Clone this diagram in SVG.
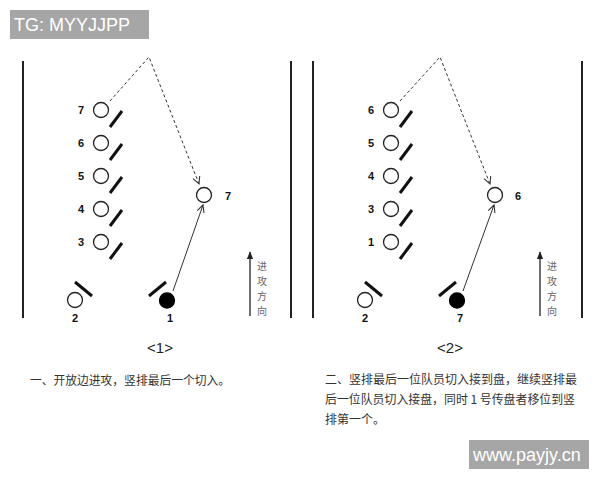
<svg xmlns="http://www.w3.org/2000/svg" width="600" height="480" viewBox="0 0 600 480">
<defs>
<style>
.side{stroke:#222;stroke-width:2;fill:none}
.p{fill:#fff;stroke:#222;stroke-width:1.3}
.pf{fill:#000;stroke:#000;stroke-width:1.3}
.sl{stroke:#111;stroke-width:3;stroke-linecap:butt}
.num{font-family:"Liberation Sans",Arial,sans-serif;font-weight:bold;font-size:11px;fill:#111;text-anchor:middle;dominant-baseline:central}
.solid{stroke:#333;stroke-width:1;fill:none}
.dash{stroke:#333;stroke-width:1;fill:none;stroke-dasharray:3,2.5}
.dir{font-family:"Noto Sans CJK SC",sans-serif;font-size:10px;fill:#666;text-anchor:middle}
.cap{font-family:"Noto Sans CJK SC",sans-serif;font-size:12px;fill:#333}
.title{font-family:"Liberation Sans",Arial,sans-serif;font-size:15px;fill:#222;text-anchor:middle}
.wm{font-family:"Liberation Sans",Arial,sans-serif;font-size:18px;fill:#fff}
</style>
<marker id="open" viewBox="0 0 10 10" refX="9" refY="5" markerWidth="9" markerHeight="9" orient="auto" markerUnits="userSpaceOnUse">
<path d="M1,1 L9,5 L1,9" fill="none" stroke="#333" stroke-width="1.2"/>
</marker>
<marker id="fill" viewBox="0 0 10 10" refX="9" refY="5" markerWidth="8" markerHeight="8" orient="auto" markerUnits="userSpaceOnUse">
<path d="M0,1 L10,5 L0,9 Z" fill="#222"/>
</marker>
</defs>
<rect width="600" height="480" fill="#fff"/>

<!-- Panel 1 -->
<g id="panel1">
<line class="side" x1="23" y1="61" x2="23" y2="318"/>
<line class="side" x1="291" y1="61" x2="291" y2="318"/>
<g id="connectors1">
<polyline class="dash" points="110,101 149,57 199,184" marker-end="url(#open)"/>
<line class="solid" x1="173" y1="291" x2="203" y2="205" marker-end="url(#open)"/>
<line class="side" x1="250" y1="316" x2="250" y2="252" style="stroke-width:1.3" marker-end="url(#fill)"/>
</g>
<g id="p1-7"><circle class="p" cx="101" cy="110" r="7.5"/><line class="sl" x1="110" y1="127" x2="122" y2="111"/><text class="num" x="81" y="110">7</text></g>
<g id="p1-6"><circle class="p" cx="101" cy="143" r="7.5"/><line class="sl" x1="110" y1="160" x2="122" y2="144"/><text class="num" x="81" y="143">6</text></g>
<g id="p1-5"><circle class="p" cx="101" cy="176" r="7.5"/><line class="sl" x1="110" y1="193" x2="122" y2="177"/><text class="num" x="81" y="176">5</text></g>
<g id="p1-4"><circle class="p" cx="101" cy="209" r="7.5"/><line class="sl" x1="110" y1="226" x2="122" y2="210"/><text class="num" x="81" y="209">4</text></g>
<g id="p1-3"><circle class="p" cx="101" cy="242" r="7.5"/><line class="sl" x1="110" y1="259" x2="122" y2="243"/><text class="num" x="81" y="242">3</text></g>
<g id="p1-7b"><circle class="p" cx="204" cy="195" r="7.5"/><text class="num" x="228" y="196">7</text></g>
<g id="p1-2"><circle class="p" cx="75" cy="300" r="7.5"/><line class="sl" x1="75" y1="282" x2="92" y2="296"/><text class="num" x="75" y="318">2</text></g>
<g id="p1-1"><circle class="pf" cx="167" cy="300.5" r="7.5"/><line class="sl" x1="149" y1="296" x2="166" y2="282"/><text class="num" x="170" y="318">1</text></g>
<g id="dir1">
<text class="dir" x="262" y="270">进</text>
<text class="dir" x="262" y="285">攻</text>
<text class="dir" x="262" y="300">方</text>
<text class="dir" x="262" y="315">向</text>
</g>
<text class="title" x="160" y="353">&lt;1&gt;</text>
<text class="cap" x="30" y="385" textLength="200" lengthAdjust="spacingAndGlyphs">一、开放边进攻，竖排最后一个切入。</text>
</g>

<!-- Panel 2 -->
<g id="panel2" transform="translate(290,0)">
<line class="side" x1="23" y1="61" x2="23" y2="318"/>
<line class="side" x1="292" y1="61" x2="292" y2="318"/>
<g id="connectors2">
<polyline class="dash" points="110,101 150,57 200,184" marker-end="url(#open)"/>
<line class="solid" x1="173" y1="291" x2="204" y2="205" marker-end="url(#open)"/>
<line class="side" x1="250" y1="316" x2="250" y2="252" style="stroke-width:1.3" marker-end="url(#fill)"/>
</g>
<g id="p2-6"><circle class="p" cx="101" cy="110" r="7.5"/><line class="sl" x1="110" y1="127" x2="122" y2="111"/><text class="num" x="81" y="110">6</text></g>
<g id="p2-5"><circle class="p" cx="101" cy="143" r="7.5"/><line class="sl" x1="110" y1="160" x2="122" y2="144"/><text class="num" x="81" y="143">5</text></g>
<g id="p2-4"><circle class="p" cx="101" cy="176" r="7.5"/><line class="sl" x1="110" y1="193" x2="122" y2="177"/><text class="num" x="81" y="176">4</text></g>
<g id="p2-3"><circle class="p" cx="101" cy="209" r="7.5"/><line class="sl" x1="110" y1="226" x2="122" y2="210"/><text class="num" x="81" y="209">3</text></g>
<g id="p2-1"><circle class="p" cx="101" cy="242" r="7.5"/><line class="sl" x1="110" y1="259" x2="122" y2="243"/><text class="num" x="81" y="242">1</text></g>
<g id="p2-6b"><circle class="p" cx="205" cy="195" r="7.5"/><text class="num" x="228" y="196">6</text></g>
<g id="p2-2"><circle class="p" cx="75" cy="300" r="7.5"/><line class="sl" x1="75" y1="282" x2="92" y2="296"/><text class="num" x="75" y="318">2</text></g>
<g id="p2-7"><circle class="pf" cx="167" cy="300.5" r="7.5"/><line class="sl" x1="149" y1="296" x2="166" y2="282"/><text class="num" x="170" y="318">7</text></g>
<g id="dir2">
<text class="dir" x="262" y="270">进</text>
<text class="dir" x="262" y="285">攻</text>
<text class="dir" x="262" y="300">方</text>
<text class="dir" x="262" y="315">向</text>
</g>
<text class="title" x="160" y="353">&lt;2&gt;</text>
<text class="cap" x="35" y="384" textLength="252" lengthAdjust="spacingAndGlyphs">二、竖排最后一位队员切入接到盘，继续竖排最</text>
<text class="cap" x="35" y="404" textLength="250" lengthAdjust="spacingAndGlyphs">后一位队员切入接盘，同时 1 号传盘者移位到竖</text>
<text class="cap" x="35" y="424">排第一个。</text>
</g>

<g id="watermarks">
<rect x="10" y="10" width="139" height="29" fill="#a6a6a6"/>
<text class="wm" x="14" y="31">TG: MYYJJPP</text>
<rect x="469" y="440" width="120" height="29" fill="#a6a6a6"/>
<text class="wm" x="473" y="461">www.payjy.cn</text>
</g>
</svg>
